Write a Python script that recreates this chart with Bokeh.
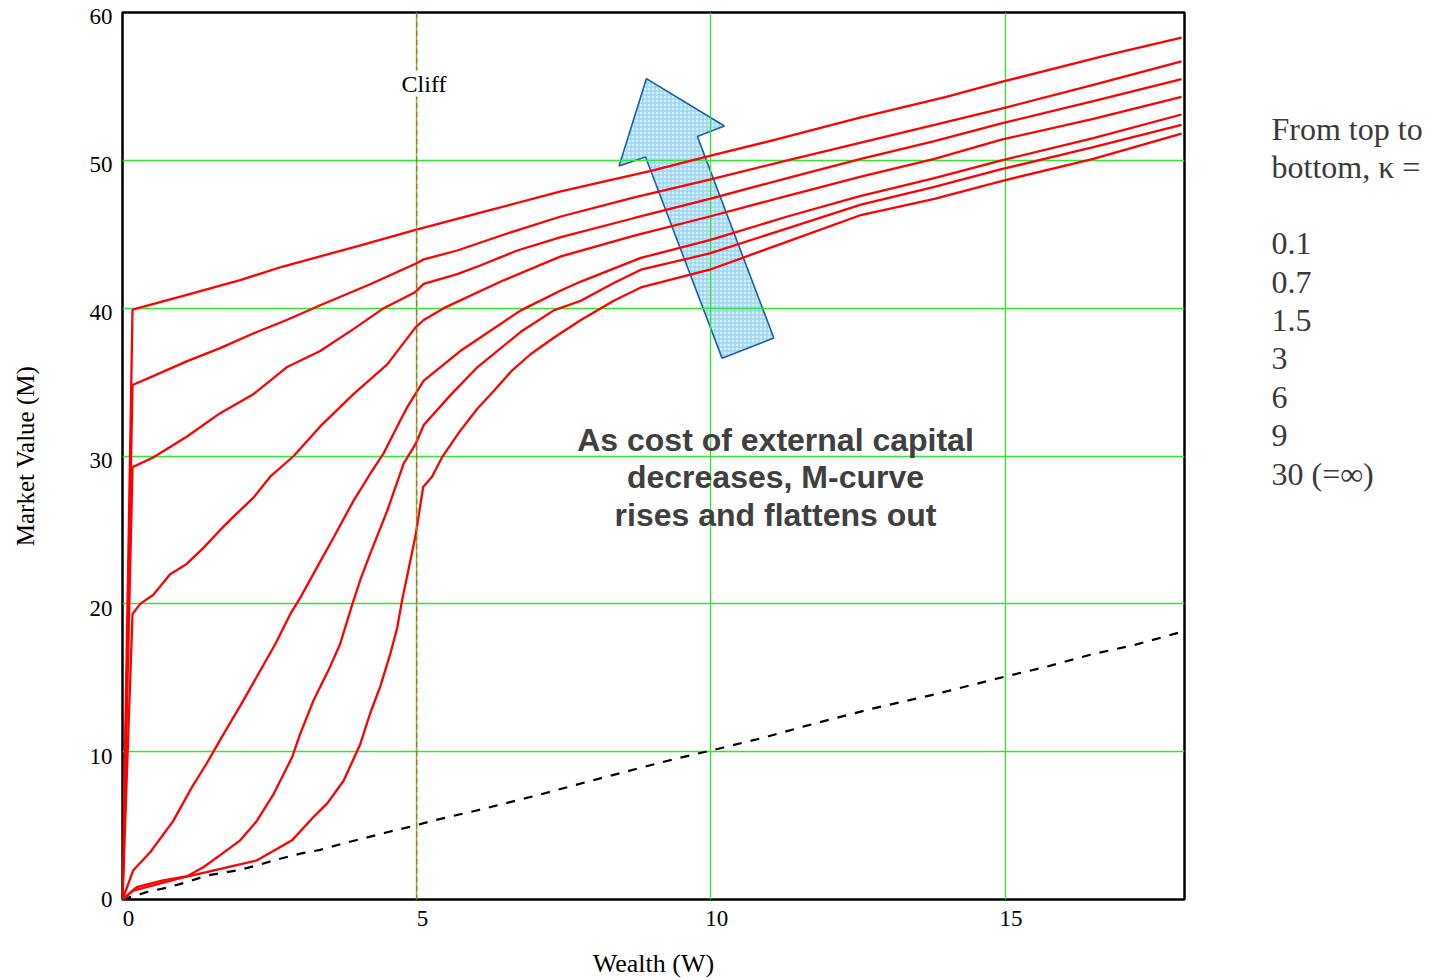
from bokeh.plotting import figure
from bokeh.layouts import row
from bokeh.models import Range1d, FixedTicker, Label, Span, NumeralTickFormatter
from bokeh.core.properties import value
from bokeh.embed import file_html
from bokeh.resources import INLINE

# ---------------- data ----------------
x_ticks = [0, 5, 10, 15]
y_ticks = [0, 10, 20, 30, 40, 50, 60]
cliff_w = 5

w_k01 = [0, 0.17, 1, 2, 2.71, 4, 4.98, 6.31, 7.45, 9, 9.98, 11, 12.55, 14, 14.94, 16.72, 18]
m_k01 = [0, 39.9, 40.8, 41.9, 42.8, 44.2, 45.3, 46.7, 47.9, 49.3, 50.3, 51.3, 52.9, 54.3, 55.3, 57.1, 58.3]

w_k07 = [0, 0.17, 0.52, 1.09, 1.66, 2.23, 2.79, 3.36, 4.2, 4.98, 5.12, 5.69, 6.5, 7.45, 8.7, 9.98, 11.3, 12.55, 13.8, 14.94, 16.5, 18]
m_k07 = [0, 34.8, 35.4, 36.4, 37.3, 38.3, 39.2, 40.2, 41.6, 43.0, 43.3, 43.9, 45.0, 46.2, 47.5, 48.7, 50.0, 51.2, 52.4, 53.5, 55.1, 56.7]

w_k15 = [0, 0.17, 0.52, 1.09, 1.66, 2.23, 2.79, 3.36, 3.93, 4.44, 4.98, 5.12, 5.69, 6.09, 6.71, 7.45, 8.7, 9.98, 11.3, 12.55, 13.8, 14.94, 16.5, 18]
m_k15 = [0, 29.25, 29.9, 31.3, 32.9, 34.2, 36.0, 37.1, 38.6, 40.0, 41.1, 41.65, 42.3, 42.9, 43.9, 44.8, 46.1, 47.4, 48.8, 50.1, 51.3, 52.5, 54.0, 55.5]

w_k3 = [0, 0.17, 0.30, 0.52, 0.81, 1.09, 1.38, 1.66, 1.94, 2.23, 2.51, 2.91, 3.36, 3.93, 4.50, 4.98, 5.12, 5.46, 6.43, 7.45, 8.7, 9.98, 11.3, 12.55, 13.8, 14.94, 16.5, 18]
m_k3 = [0, 19.3, 20.0, 20.6, 22.0, 22.7, 23.8, 25.0, 26.1, 27.2, 28.6, 30.0, 32.0, 34.2, 36.2, 38.7, 39.2, 40.0, 41.8, 43.5, 44.9, 46.2, 47.6, 48.9, 50.1, 51.4, 52.8, 54.3]

w_k6 = [0, 0.18, 0.47, 0.86, 1.18, 1.43, 1.66, 2.06, 2.40, 2.60, 2.85, 3.02, 3.31, 3.59, 3.93, 4.21, 4.44, 4.72, 4.84, 4.98, 5.12, 5.74, 6.77, 7.45, 7.79, 8.81, 9.98, 11.3, 12.55, 13.8, 14.94, 16.5, 18]
m_k6 = [0, 1.96, 3.2, 5.3, 7.6, 9.2, 10.8, 13.5, 15.9, 17.3, 19.3, 20.4, 22.5, 24.5, 27.0, 28.8, 30.2, 32.4, 33.3, 34.2, 35.1, 37.1, 39.85, 41.2, 41.8, 43.4, 44.6, 46.2, 47.6, 48.8, 50.0, 51.5, 53.1]

w_k9 = [0, 0.24, 0.69, 1.09, 1.38, 1.66, 2.0, 2.28, 2.57, 2.88, 3.02, 3.25, 3.50, 3.70, 3.90, 4.04, 4.21, 4.50, 4.78, 4.98, 5.12, 5.57, 6.03, 6.77, 7.33, 7.79, 8.35, 8.81, 9.98, 11.3, 12.55, 13.8, 14.94, 16.5, 18]
m_k9 = [0, 0.83, 1.3, 1.56, 2.2, 3.0, 4.0, 5.3, 7.15, 9.6, 11.2, 13.5, 15.5, 17.3, 19.9, 21.6, 23.4, 26.3, 29.5, 30.8, 32.1, 34.1, 36.0, 38.4, 39.85, 40.5, 41.7, 42.6, 43.7, 45.4, 47.0, 48.2, 49.4, 50.9, 52.4]

w_k30 = [0, 0.18, 0.52, 1.03, 1.43, 1.83, 2.28, 2.57, 2.88, 3.25, 3.48, 3.76, 4.04, 4.21, 4.38, 4.55, 4.67, 4.75, 4.86, 4.98, 5.11, 5.26, 5.43, 5.72, 6.03, 6.31, 6.60, 6.94, 7.33, 7.79, 8.35, 8.81, 9.98, 11.3, 12.55, 13.8, 14.94, 16.5, 18]
m_k30 = [0, 0.6, 0.95, 1.5, 1.85, 2.23, 2.64, 3.3, 4.0, 5.6, 6.5, 8.05, 10.5, 12.6, 14.4, 16.6, 18.4, 20.2, 22.3, 24.6, 27.9, 28.6, 29.9, 31.6, 33.2, 34.4, 35.7, 36.9, 38.0, 39.2, 40.5, 41.4, 42.6, 44.5, 46.3, 47.4, 48.6, 50.1, 51.8]

w_base = [0, 0.41, 0.75, 1.09, 1.43, 1.94, 2.28, 2.62, 3.02, 3.36, 3.76, 4.16, 4.50, 4.97, 5.29, 6.0, 7.0, 8.21, 9.36, 10.13, 10.89, 11.6, 12.68, 13.83, 14.98, 15.71, 16.45, 17.22, 18]
m_base = [0, 0.5, 0.8, 1.17, 1.62, 1.96, 2.3, 2.7, 3.1, 3.36, 3.8, 4.2, 4.55, 5.0, 5.35, 6.0, 7.0, 8.29, 9.48, 10.2, 10.94, 11.73, 12.85, 13.9, 15.06, 15.75, 16.56, 17.24, 18.1]

curves_w = [w_k01, w_k07, w_k15, w_k3, w_k6, w_k9, w_k30]
curves_m = [m_k01, m_k07, m_k15, m_k3, m_k6, m_k9, m_k30]

legend_header = ["From top to", "bottom, \u03ba ="]
kappa_labels = ["0.1", "0.7", "1.5", "3", "6", "9", "30 (=\u221e)"]
annotation_lines = ["As cost of external capital", "decreases, M-curve", "rises and flattens out"]

# arrow outline (decoration, in data space)
arrow_x = [8.905, 10.23, 9.77, 11.07, 10.19, 8.89, 8.44]
arrow_y = [55.53, 52.32, 51.62, 37.98, 36.62, 50.22, 49.61]

# ---------------- layout constants (page pixels) ----------------
X0, X1 = 0, 18.05
Y0, Y1 = 0, 60
FRAME_L, FRAME_T, FRAME_W, FRAME_H = 122, 12, 1062, 887
H = 980
MAIN_W = 1198
SIDE_W = 229

serif = "Liberation Serif"

p = figure(width=MAIN_W, height=H, x_range=Range1d(X0, X1), y_range=Range1d(Y0, Y1),
           output_backend="svg", toolbar_location=None,
           min_border_left=FRAME_L, min_border_top=FRAME_T,
           min_border_right=MAIN_W - FRAME_L - FRAME_W,
           min_border_bottom=H - FRAME_T - FRAME_H)
p.background_fill_color = "white"
p.border_fill_color = "white"
p.outline_line_color = "black"
p.outline_line_width = 2.5

# grids at the real ticks
p.xgrid.ticker = FixedTicker(ticks=x_ticks)
p.ygrid.ticker = FixedTicker(ticks=y_ticks)
for g in (p.xgrid, p.ygrid):
    g.grid_line_color = "#33e633"
    g.grid_line_width = 1.3

# tick labels sit slightly right of / below their grid lines in the reference
p.xaxis.ticker = FixedTicker(ticks=[t + 0.1 for t in x_ticks])
p.yaxis.ticker = FixedTicker(ticks=[max(t - 0.3, 0) for t in y_ticks])
p.xaxis.formatter = NumeralTickFormatter(format="0")
p.yaxis.formatter = NumeralTickFormatter(format="0")

for ax in (p.xaxis, p.yaxis):
    ax.axis_line_color = None
    ax.major_tick_line_color = None
    ax.minor_tick_line_color = None
    ax.major_tick_out = 0
    ax.major_tick_in = 0
    ax.major_label_text_font = serif
    ax.major_label_text_font_size = "23px"
    ax.major_label_text_color = "black"
    ax.axis_label_text_font = serif
    ax.axis_label_text_font_style = "normal"
    ax.axis_label_text_color = "black"
p.xaxis.axis_label = "Wealth (W)"
p.yaxis.axis_label = "Market Value (M)"
p.xaxis.axis_label_text_font_size = "26px"
p.yaxis.axis_label_text_font_size = "25px"
p.xaxis.major_label_standoff = 11
p.yaxis.major_label_standoff = 10
p.xaxis.axis_label_standoff = 20
p.yaxis.axis_label_standoff = 48

# arrow (under the grid)
p.patch(arrow_x, arrow_y, fill_color="#d4eefa", hatch_pattern="+", hatch_color="#86cdf0",
        hatch_scale=4, hatch_weight=1, line_color="#1a5fa5", line_width=1.6, level="image")

# cliff marker
p.add_layout(Span(location=cliff_w, dimension="height", line_color="#c8642d",
                  line_dash="6 3", line_width=1.5))

# black dashed baseline
p.line(w_base, m_base, line_color="black", line_width=2.2, line_dash="9 9")

# red M-curves
for wx, my in zip(curves_w, curves_m):
    p.line(wx, my, line_color="#ff0000", line_width=2.3)

# helpers to place text at page pixel positions
def dx(px):
    return X0 + (px - FRAME_L) * (X1 - X0) / FRAME_W

def dy(py):
    return Y0 + (FRAME_T + FRAME_H - py) * (Y1 - Y0) / FRAME_H

p.add_layout(Label(x=dx(423.5), y=dy(83), text="Cliff", text_font=serif, text_font_size="24px",
                   text_align="center", text_baseline="middle", text_color="black",
                   background_fill_color="white"))

annotation_centers = [439, 476.5, 514]
for line, cy in zip(annotation_lines, annotation_centers):
    p.add_layout(Label(x=dx(775), y=dy(cy), text=line, text_font="Liberation Sans",
                       text_font_style="bold", text_font_size="32px", text_align="center",
                       text_baseline="middle", text_color="#404040"))

# ---------------- side panel with the kappa list ----------------
# its frame is aligned with the main frame (rows align frames), so map page pixels directly
side = figure(width=SIDE_W, height=H, x_range=Range1d(MAIN_W, MAIN_W + SIDE_W),
              y_range=Range1d(FRAME_T + FRAME_H, FRAME_T),
              output_backend="svg", toolbar_location=None, min_border=0,
              x_axis_location=None, y_axis_location=None)
side.outline_line_color = None
side.background_fill_color = "white"
side.border_fill_color = "white"
side.xgrid.visible = False
side.ygrid.visible = False

side_lines = legend_header + kappa_labels
side_centers = [128.3, 166.7] + [243.3 + 38.33 * i for i in range(len(kappa_labels))]
side.text(x=[1271] * len(side_lines), y=side_centers, text=side_lines,
          text_font=value(serif), text_font_size="32px", text_align="left",
          text_baseline="middle", text_color="#3a3a3a")

layout = row(p, side, spacing=0)
open("out.html", "w").write(file_html(layout, INLINE))
